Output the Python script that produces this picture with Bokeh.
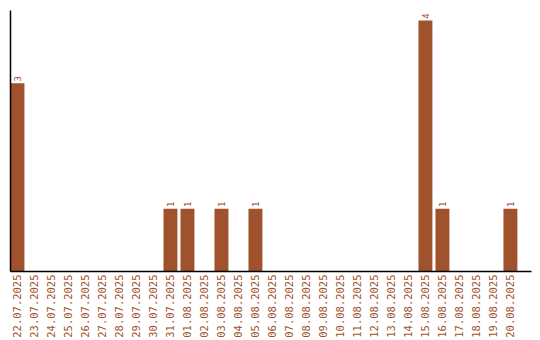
import math
from bokeh.plotting import figure
from bokeh.models import Range1d, ColumnDataSource, FixedTicker
from bokeh.core.properties import value
from bokeh.embed import file_html
from bokeh.resources import INLINE

dates = ["22.07.2025", "23.07.2025", "24.07.2025", "25.07.2025", "26.07.2025",
         "27.07.2025", "28.07.2025", "29.07.2025", "30.07.2025", "31.07.2025",
         "01.08.2025", "02.08.2025", "03.08.2025", "04.08.2025", "05.08.2025",
         "06.08.2025", "07.08.2025", "08.08.2025", "09.08.2025", "10.08.2025",
         "11.08.2025", "12.08.2025", "13.08.2025", "14.08.2025", "15.08.2025",
         "16.08.2025", "17.08.2025", "18.08.2025", "19.08.2025", "20.08.2025"]
counts = [3, 0, 0, 0, 0, 0, 0, 0, 0, 1,
          1, 0, 1, 0, 1, 0, 0, 0, 0, 0,
          0, 0, 0, 0, 4, 1, 0, 0, 0, 1]

COLOR = "#A0522D"
xs = list(range(len(dates)))

p = figure(width=540, height=340, output_backend="svg", toolbar_location=None,
           x_range=Range1d(-0.41, len(dates) + 0.24), y_range=Range1d(0, 4.16),
           min_border_left=10, min_border_top=10, min_border_right=9,
           min_border_bottom=0)
p.outline_line_color = None
p.xgrid.visible = False
p.ygrid.visible = False

src = ColumnDataSource(dict(x=xs, top=counts))
p.vbar(x="x", top="top", width=0.82, source=src, fill_color=COLOR, line_color=None)

lx = [x for x, c in zip(xs, counts) if c > 0]
ly = [c + 0.03 for c in counts if c > 0]
lt = [str(c) for c in counts if c > 0]
p.text(x=lx, y=ly, text=lt, angle=math.pi / 2, text_align="left",
       text_baseline="middle", text_color=COLOR, text_font_size="9px",
       text_font=value("DejaVu Sans Mono"))

xa = p.xaxis[0]
xa.ticker = FixedTicker(ticks=xs)
xa.major_label_overrides = {i: d for i, d in enumerate(dates)}
xa.major_label_orientation = math.pi / 2
xa.major_label_text_color = COLOR
xa.major_label_text_font = "DejaVu Sans Mono"
xa.major_label_text_font_size = "10.5px"
xa.major_tick_line_color = None
xa.minor_tick_line_color = None
xa.major_tick_out = 0
xa.major_tick_in = 0
xa.major_label_standoff = 3
xa.axis_line_color = "black"
xa.axis_line_width = 1.5

ya = p.yaxis[0]
ya.major_tick_line_color = None
ya.minor_tick_line_color = None
ya.major_label_text_font_size = "0px"
ya.major_label_text_color = None
ya.axis_line_color = "black"
ya.axis_line_width = 1.5

open("out.html", "w").write(file_html(p, INLINE))
